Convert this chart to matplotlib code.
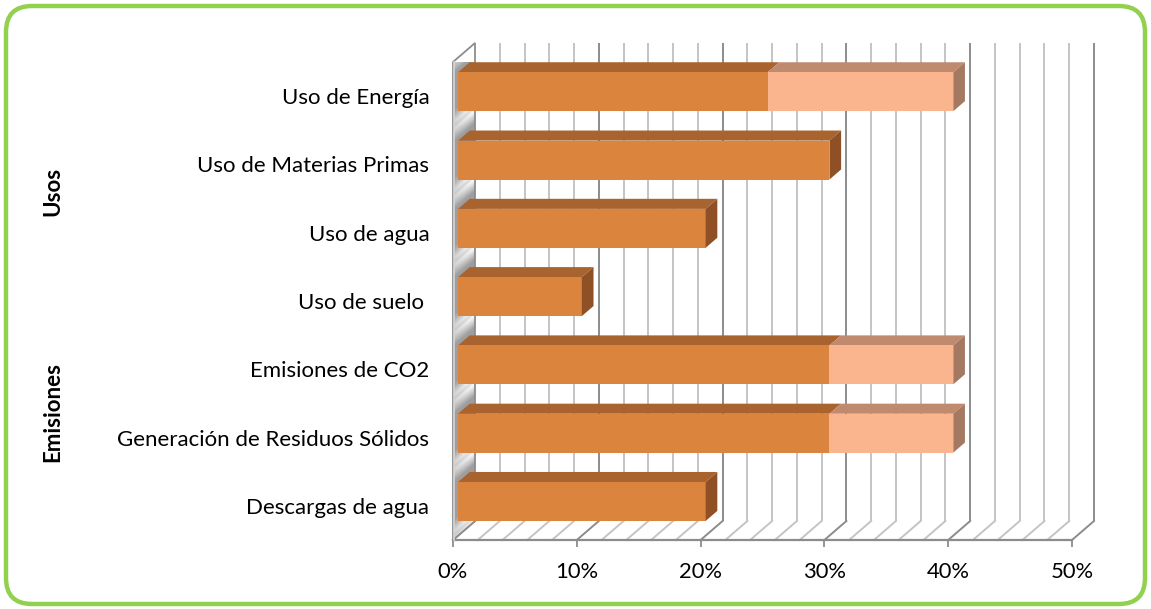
import numpy as np
import matplotlib
matplotlib.use("Agg")
import matplotlib.pyplot as plt
from matplotlib.patches import Polygon, FancyBboxPatch
from matplotlib.transforms import Affine2D
from matplotlib.colors import LinearSegmentedColormap

plt.rcParams["font.family"] = ["Lato", "DejaVu Sans"]

categories = [
    "Uso de Energía",
    "Uso de Materias Primas",
    "Uso de agua",
    "Uso de suelo ",
    "Emisiones de CO2",
    "Generación de Residuos Sólidos",
    "Descargas de agua",
]
base = [25, 30, 20, 10, 30, 30, 20]
extra = [15, 0, 0, 0, 10, 10, 0]
x_ticks = [0, 10, 20, 30, 40, 50]
x_labels = ["0%", "10%", "20%", "30%", "40%", "50%"]
groups = ["Usos", "Emisiones"]

W, H = 1151, 609
fig = plt.figure(figsize=(W / 100, H / 100), dpi=100)

# pixel coordinates, origin at top-left
px = Affine2D().scale(1 / W, -1 / H).translate(0, 1) + fig.transFigure

# green rounded frame around the whole chart
frame = FancyBboxPatch((6, 6), 1139, 598,
                       boxstyle="round,pad=0,rounding_size=26",
                       transform=px, facecolor="none",
                       edgecolor="#92D050", linewidth=3.2, zorder=-1)
fig.patches.append(frame)

# axes = front plane of the 3D box
left, right, bottom, top = 453, 1072, 540, 62
ax = fig.add_axes([left / W, 1 - bottom / H, (right - left) / W, (bottom - top) / H])
n = len(categories)
ax.patch.set_visible(False)
for s in ax.spines.values():
    s.set_visible(False)

# depth of the box in data units
DX = 22 / ((right - left) / 50)
DY = 19 / ((bottom - top) / n)
y0, y1 = -0.5, n - 0.5

# back wall gridlines and floor lines
for v in np.arange(0, 51, 2):
    major = v % 10 == 0
    c = "#8C8C8C" if major else "#C4C4C4"
    if v > 0:
        ax.plot([v + DX, v + DX], [y0 + DY, y1 + DY], color=c, lw=1.4, zorder=1,
                clip_on=False, solid_capstyle="butt")
    ax.plot([v, v + DX], [y0, y0 + DY], color=c, lw=1.4, zorder=1, clip_on=False)

# front floor edge
ax.plot([0, 50], [y0, y0], color="#8C8C8C", lw=1.6, zorder=2, clip_on=False)

# left side wall: glossy shading repeated along each category band
wall_pts = [(0, y0), (DX, y0 + DY), (DX, y1 + DY), (0, y1)]
gx = np.linspace(0, DX, 60)
gy = np.linspace(y0, y1 + DY, 700)
GX, GY = np.meshgrid(gx, gy)
h = GY - (GX / DX) * DY
p = np.mod(h + 0.5 - 0.06, 1.0)
q = np.abs(p - 0.5) * 2          # 1 at band edges, 0 in the middle
shade = np.clip(1 - np.abs(q - 0.9) / 0.35, 0, 1) * (0.55 + 0.45 * GX / DX)
im = ax.imshow(shade, extent=[0, DX, y0, y1 + DY], origin="lower", aspect="auto",
               cmap=LinearSegmentedColormap.from_list("wall", ["#9E9E9E", "#FFFFFF"]),
               vmin=0, vmax=1, zorder=1.5, interpolation="bilinear")
im.set_clip_path(Polygon(wall_pts, transform=ax.transData))
ax.add_patch(Polygon(wall_pts, closed=True, facecolor="none", edgecolor="#8C8C8C",
                     lw=1.3, zorder=2, clip_on=False))
ax.plot([0.12, 0.12], [y0, y1], color="#D6D6D6", lw=1.2, zorder=2.1, clip_on=False)
ax.set_xlim(0, 50)
ax.set_ylim(-0.5, n - 0.5)

# 3D bars
f0, f1 = 0.23, 0.76
bh = 0.285
seg_colors = [("#DB843D", "#A9632F", "#8E5024"),
              ("#FAB58F", "#C08A6E", "#A57862")]


def draw_segment(xa, xb, yc, cols, side):
    front, topc, sidec = cols
    yb, yt = yc - bh, yc + bh
    ox0, oy0 = f0 * DX, f0 * DY
    ox1, oy1 = f1 * DX, f1 * DY
    ax.add_patch(Polygon([(xa + ox0, yt + oy0), (xb + ox0, yt + oy0),
                          (xb + ox1, yt + oy1), (xa + ox1, yt + oy1)],
                         facecolor=topc, edgecolor="none", zorder=5, clip_on=False))
    ax.add_patch(Polygon([(xa + ox0, yb + oy0), (xb + ox0, yb + oy0),
                          (xb + ox0, yt + oy0), (xa + ox0, yt + oy0)],
                         facecolor=front, edgecolor="none", zorder=6, clip_on=False))
    if side:
        ax.add_patch(Polygon([(xb + ox0, yb + oy0), (xb + ox1, yb + oy1),
                              (xb + ox1, yt + oy1), (xb + ox0, yt + oy0)],
                             facecolor=sidec, edgecolor="none", zorder=6, clip_on=False))


for i, (b, e) in enumerate(zip(base, extra)):
    yc = n - 1 - i
    draw_segment(0, b, yc, seg_colors[0], side=(e == 0))
    if e > 0:
        draw_segment(b, b + e, yc, seg_colors[1], side=True)

# axis ticks and labels
ax.set_xticks(x_ticks)
ax.set_xticklabels(x_labels, fontsize=15.8)
ax.tick_params(axis="x", length=5, width=1.3, color="#8C8C8C", pad=11)
ax.set_yticks(range(n))
ax.set_yticklabels(categories[::-1], fontsize=16)
ax.tick_params(axis="y", length=0, pad=17)

# group labels on the far left
for name, ypix in zip(groups, [191, 412]):
    fig.text(53, ypix, name, rotation=90, ha="center", va="center",
             fontsize=16, fontweight="bold", transform=px)

fig.savefig("out.png", dpi=100)
